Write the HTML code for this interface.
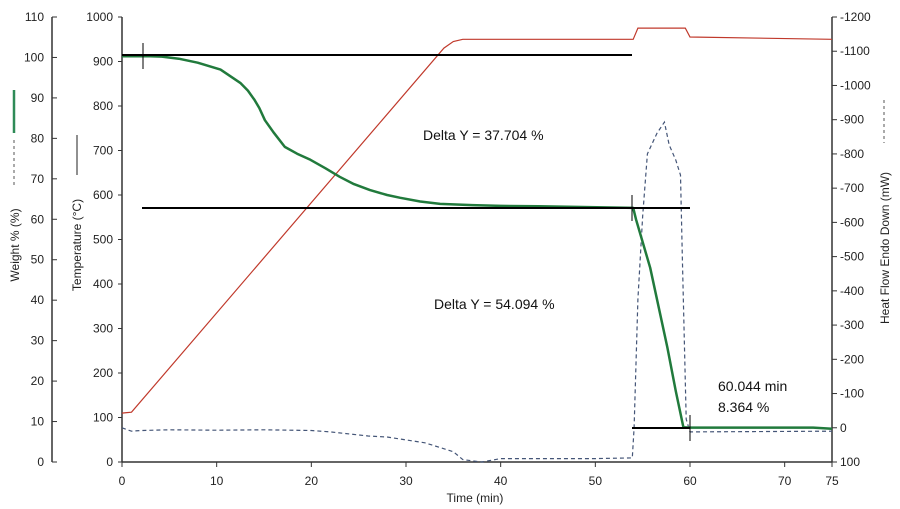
<!DOCTYPE html>
<html><head><meta charset="utf-8"><style>
html,body{margin:0;padding:0;background:#fff;}
svg{display:block;font-family:"Liberation Sans",Arial,sans-serif;}
.tk{font-size:12px;fill:#222;}
</style></head><body>
<svg id="chart" width="900" height="509" viewBox="0 0 900 509" xmlns="http://www.w3.org/2000/svg"></svg>
<script>
const timeTicks=[0,10,20,30,40,50,60,70,75];
const weightTicks=[0,10,20,30,40,50,60,70,80,90,100,110];
const tempTicks=[0,100,200,300,400,500,600,700,800,900,1000];
const hfTicks=[100,0,-100,-200,-300,-400,-500,-600,-700,-800,-900,-1000,-1100,-1200];
const tempT=[0,1,34,35,36,54,54.5,59.5,60,75];
const tempV=[110,112,930,945,950,950,975,975,955,950];
const wT=[0,3,4.2,6,8,10.4,12.5,13.3,14,14.5,15.1,16,17.2,18.5,19.9,21.5,23,24.5,26.2,28,29.4,31.5,33.6,37,40,44,54,54.3,55.8,57.6,58.5,59.3,60,73,75];
const wV=[100.3,100.3,100.2,99.7,98.7,97,93.7,91.8,89.5,87.5,84.5,81.5,77.9,76.2,74.7,72.6,70.5,68.7,67.2,66,65.3,64.4,63.8,63.5,63.3,63.2,62.8,60,48,28.4,17.5,8.6,8.5,8.5,8.2];
const hT=[0,1,2,5,10,15,20,22,26,28,32,35,36,38,40,50,53.9,54.1,54.5,55,55.5,56.5,57.3,57.8,58.5,59,59.2,59.6,60,75];
const hV=[0,10,8,6,7,6,8,12,24,27,44,70,93,100,90,90,88,0,-375,-620,-800,-860,-893,-826,-782,-738,-490,-25,12,10];
const x=t=>122+t*(832-122)/75;
const yW=v=>462-v*445/110;
const yT=v=>462-v*445/1000;
const yH=v=>462-(100-v)*445/1300;
const svg=document.getElementById('chart');
const NS='http://www.w3.org/2000/svg';
function mk(tag,attrs,parent){const e=document.createElementNS(NS,tag);for(const k in attrs)e.setAttribute(k,attrs[k]);(parent||svg).appendChild(e);return e;}
function txt(s,attrs){const e=mk('text',attrs);e.textContent=s;return e;}
let a;
a=mk('line',{x1:122,y1:462,x2:832,y2:462,stroke:'#333','stroke-width':1.5});

a=mk('line',{x1:122,y1:17,x2:122,y2:462,stroke:'#333','stroke-width':1.5});

a=mk('line',{x1:52,y1:17,x2:52,y2:462,stroke:'#333','stroke-width':1.5});

a=mk('line',{x1:832,y1:17,x2:832,y2:462,stroke:'#333','stroke-width':1.5});

timeTicks.forEach(t=>{mk('line',{x1:x(t),y1:462,x2:x(t),y2:467,stroke:'#333'});
 const e=txt(t,{x:x(t),y:485,'text-anchor':'middle',class:'tk'});
 });
weightTicks.forEach(v=>{mk('line',{x1:52,y1:yW(v),x2:57,y2:yW(v),stroke:'#333'});
 const e=txt(v,{x:44,y:yW(v)+4,'text-anchor':'end',class:'tk'});
 });
tempTicks.forEach(v=>{mk('line',{x1:118,y1:yT(v),x2:122,y2:yT(v),stroke:'#333'});
 const e=txt(v,{x:113,y:yT(v)+4,'text-anchor':'end',class:'tk'});
 });
hfTicks.forEach(v=>{mk('line',{x1:832,y1:yH(v),x2:837,y2:yH(v),stroke:'#333'});
 const e=txt(v,{x:840,y:yH(v)+4,class:'tk'});
 });
a=txt('Weight % (%)',{transform:'translate(19,245) rotate(-90)','text-anchor':'middle',class:'tk'});

mk('line',{x1:14,y1:90,x2:14,y2:133,stroke:'#2e8b57','stroke-width':2.5});
mk('line',{x1:14,y1:140,x2:14,y2:185,stroke:'#555','stroke-dasharray':'3,3'});
a=txt('Temperature (°C)',{transform:'translate(81,245) rotate(-90)','text-anchor':'middle',class:'tk'});

mk('line',{x1:77,y1:135,x2:77,y2:175,stroke:'#222','stroke-width':1});
a=txt('Heat Flow Endo Down (mW)',{transform:'translate(889,248) rotate(-90)','text-anchor':'middle',class:'tk'});

mk('line',{x1:884,y1:100,x2:884,y2:143,stroke:'#555','stroke-dasharray':'3,3'});
a=txt('Time (min)',{x:475,y:502,'text-anchor':'middle',class:'tk'});

function pts(T,V,f){return T.map((t,i)=>x(t).toFixed(1)+','+f(V[i]).toFixed(1)).join(' ');}
a=mk('polyline',{points:pts(hT,hV,yH),fill:'none',stroke:'#445577','stroke-width':1.2,'stroke-dasharray':'4,3'});

a=mk('polyline',{points:pts(tempT,tempV,yT),fill:'none',stroke:'#c0392b','stroke-width':1.2});

a=mk('polyline',{points:pts(wT,wV,yW),fill:'none',stroke:'#217a3c','stroke-width':2.5,'stroke-linejoin':'round'});

a=mk('line',{x1:122,y1:55,x2:632,y2:55,stroke:'#000','stroke-width':2});

a=mk('line',{x1:142,y1:208,x2:690,y2:208,stroke:'#000','stroke-width':2});

a=mk('line',{x1:632,y1:428,x2:690,y2:428,stroke:'#000','stroke-width':2});

mk('line',{x1:143,y1:43,x2:143,y2:69,stroke:'#000'});
mk('line',{x1:632,y1:195,x2:632,y2:221,stroke:'#000'});
mk('line',{x1:690,y1:415,x2:690,y2:441,stroke:'#000'});
a=txt('Delta Y = 37.704 %',{x:423,y:140,'font-size':14,fill:'#111'});

a=txt('Delta Y = 54.094 %',{x:434,y:309,'font-size':14,fill:'#111'});

a=txt('60.044 min',{x:718,y:391,'font-size':14,fill:'#111'});

a=txt('8.364 %',{x:718,y:412,'font-size':14,fill:'#111'});

</script>
</body></html>
